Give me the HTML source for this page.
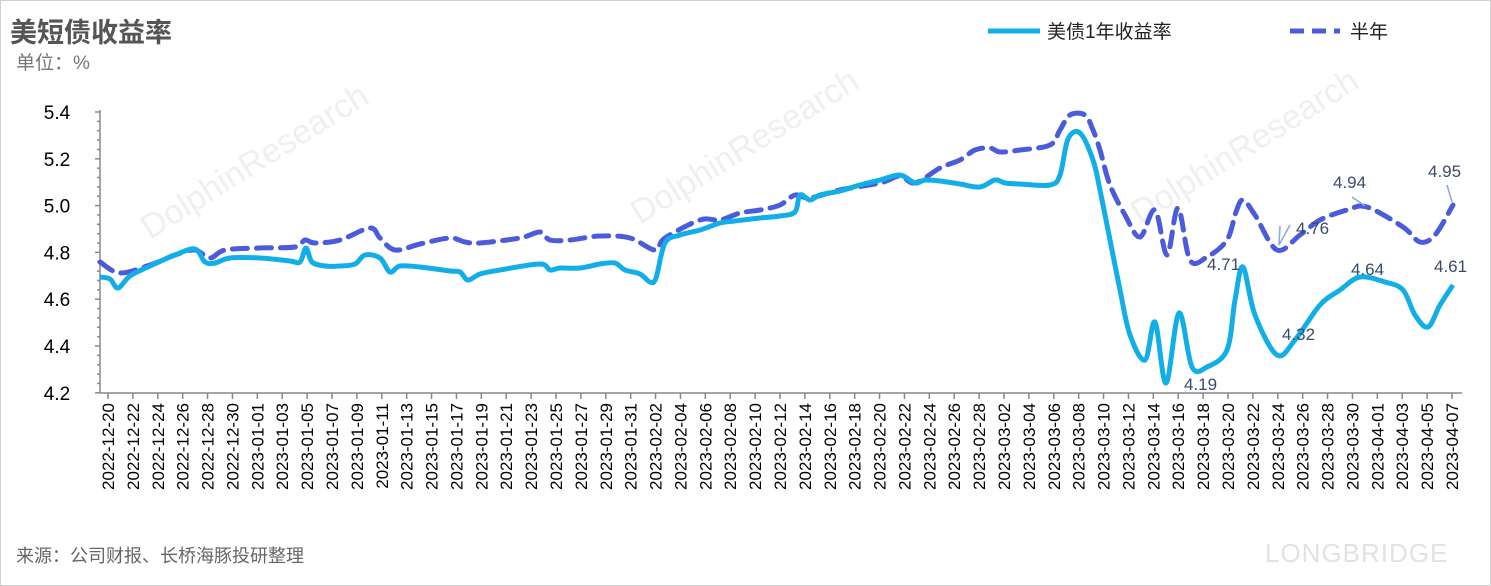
<!DOCTYPE html>
<html><head><meta charset="utf-8">
<style>
html,body{margin:0;padding:0;background:#fff;}
body{width:1491px;height:586px;overflow:hidden;position:relative;font-family:"Liberation Sans","Noto Sans CJK SC",sans-serif;}
.frame{position:absolute;left:0;top:0;width:1489px;height:584px;border:1px solid #d0d0d0;}
</style></head><body>
<div class="frame"></div>
<svg id="s" width="1491" height="586" style="position:absolute;left:0;top:0" font-family="Liberation Sans, Noto Sans CJK SC, sans-serif">
<text x="10" y="42" font-size="27" font-weight="bold" fill="#555">美短债收益率</text>
<text x="16" y="69" font-size="19" fill="#777">单位：%</text>
<text x="16" y="562" font-size="18" fill="#666">来源：公司财报、长桥海豚投研整理</text>
<text x="1265" y="562" font-size="26" fill="#e2e2e2" letter-spacing="1">LONGBRIDGE</text>
<g fill="#eeeeee" font-size="34" opacity="0.9">
<text transform="translate(150,240) rotate(-32)">DolphinResearch</text>
<text transform="translate(640,225) rotate(-32)">DolphinResearch</text>
<text transform="translate(1140,225) rotate(-32)">DolphinResearch</text>
</g>
<line x1="988" y1="31" x2="1040" y2="31" stroke="#12aee8" stroke-width="5"/>
<text x="1047" y="38" font-size="19" fill="#222">美债1年收益率</text>
<line x1="1290" y1="31" x2="1340" y2="31" stroke="#4a5bdb" stroke-width="5" stroke-dasharray="14,8"/>
<text x="1350" y="38" font-size="19" fill="#222">半年</text>
<g id="ax" stroke="#888" stroke-width="1.5"></g>
<g id="lbl" font-size="19" fill="#000"></g>
<path id="p2" fill="none" stroke="#4a5bdb" stroke-width="5" stroke-dasharray="15,9" stroke-linecap="round"/>
<path id="p1" fill="none" stroke="#12aee8" stroke-width="5" stroke-linejoin="round"/>
<g stroke="#8aa8d8" stroke-width="1.5" fill="none">
<polyline points="1280,226 1279,245 1290,225"/>
<line x1="1352" y1="197" x2="1365" y2="206"/>
<line x1="1447" y1="185" x2="1452" y2="202"/>
</g>
<g font-size="17" fill="#3a4a6b">
<text x="1184" y="390">4.19</text>
<text x="1207" y="270">4.71</text>
<text x="1282" y="340">4.32</text>
<text x="1351" y="275">4.64</text>
<text x="1434" y="272">4.61</text>
<text x="1333" y="188">4.94</text>
<text x="1428" y="177">4.95</text>
<text x="1296" y="234">4.76</text>
</g>
</svg>
<script>
var ns="http://www.w3.org/2000/svg";
function el(p,t,a,txt){var e=document.createElementNS(ns,t);for(var k in a)e.setAttribute(k,a[k]);if(txt)e.textContent=txt;p.appendChild(e);return e;}
var ax=document.getElementById('ax'),lbl=document.getElementById('lbl');
el(ax,'line',{x1:100,y1:110,x2:100,y2:393});
el(ax,'line',{x1:100,y1:393,x2:1462,y2:393});
var ys=[5.4,5.2,5.0,4.8,4.6,4.4,4.2];
for(var i=0;i<7;i++){var y=112+i*46.8;el(ax,'line',{x1:95,y1:y,x2:100,y2:y});
el(lbl,'text',{x:57,y:y+7,'text-anchor':'middle'},ys[i].toFixed(1));
if(i<6)for(var j=1;j<5;j++){var yy=y+j*9.36;el(ax,'line',{x1:97,y1:yy,x2:100,y2:yy});}}
var dates=[];
[20,22,24,26,28,30].forEach(d=>dates.push('2022-12-'+d));
for(var d=1;d<=31;d+=2)dates.push('2023-01-'+(d<10?'0':'')+d);
for(var d=2;d<=28;d+=2)dates.push('2023-02-'+(d<10?'0':'')+d);
for(var d=2;d<=30;d+=2)dates.push('2023-03-'+(d<10?'0':'')+d);
[1,3,5,7].forEach(d=>dates.push('2023-04-0'+d));
var step=(1452-108)/(dates.length-1);
dates.forEach(function(s,i){var x=108+i*step;el(ax,'line',{x1:x,y1:393,x2:x,y2:399});
el(lbl,'text',{x:0,y:0,'font-size':17,'text-anchor':'end',transform:'translate('+(x+6)+',403) rotate(-90)'},s);});
function cr(pts){var d='M'+pts[0][0]+','+pts[0][1];for(var i=0;i<pts.length-1;i++){var p0=pts[i-1]||pts[i],p1=pts[i],p2=pts[i+1],p3=pts[i+2]||p2;
var c1x=p1[0]+(p2[0]-p0[0])/6,c1y=p1[1]+(p2[1]-p0[1])/6,c2x=p2[0]-(p3[0]-p1[0])/6,c2y=p2[1]-(p3[1]-p1[1])/6;
d+=' C'+c1x.toFixed(1)+','+c1y.toFixed(1)+' '+c2x.toFixed(1)+','+c2y.toFixed(1)+' '+p2[0]+','+p2[1];}return d;}
var s1=[[100,277],[110,279],[118,288],[130,276],[150,266],[175,255],[195,249],[205,262],[215,263],[230,258],[260,258],[290,261],[300,262],[306,248],[312,262],[325,266],[340,266],[355,264],[365,255],[380,258],[390,272],[400,266],[420,267],[450,271],[460,272],[468,280],[480,274],[500,270],[540,264],[550,270],[560,268],[580,268],[600,264],[615,263],[625,270],[640,274],[650,282],[656,278],[665,243],[680,235],[700,230],[720,223],[735,221],[760,218],[780,216],[795,212],[800,195],[810,200],[820,195],[840,191],[860,185],[880,180],[900,175],[915,183],[925,180],[940,181],[960,184],[980,187],[995,180],[1005,183],[1020,184],[1050,185],[1060,175],[1068,139],[1080,133],[1093,160],[1100,190],[1110,240],[1120,290],[1130,335],[1145,360],[1155,322],[1166,383],[1179,313],[1192,367],[1207,367],[1227,350],[1235,300],[1243,267],[1255,315],[1277,355],[1295,340],[1320,305],[1340,290],[1360,277],[1385,282],[1403,290],[1415,315],[1428,327],[1440,305],[1453,285]];
var s2=[[100,262],[120,273],[150,265],[175,255],[195,250],[210,258],[225,250],[260,248],[295,247],[305,240],[315,243],[340,240],[370,228],[380,238],[395,250],[420,244],[450,238],[465,242],[480,243],[520,238],[540,232],[550,240],[570,240],[600,236],[630,238],[655,250],[665,238],[700,220],[720,220],[740,213],[760,210],[780,205],[795,195],[810,198],[840,190],[880,183],[900,176],[915,183],[940,168],[960,160],[975,150],[990,148],[1000,152],[1020,150],[1050,145],[1060,130],[1070,115],[1085,115],[1093,130],[1100,150],[1110,185],[1125,215],[1140,237],[1155,210],[1167,255],[1178,208],[1190,260],[1207,257],[1227,240],[1236,212],[1243,200],[1255,215],[1277,250],[1300,235],[1320,220],[1347,210],[1367,207],[1403,227],[1420,242],[1435,235],[1453,205]];
document.getElementById('p1').setAttribute('d',cr(s1));
document.getElementById('p2').setAttribute('d',cr(s2));
</script>
</body></html>
